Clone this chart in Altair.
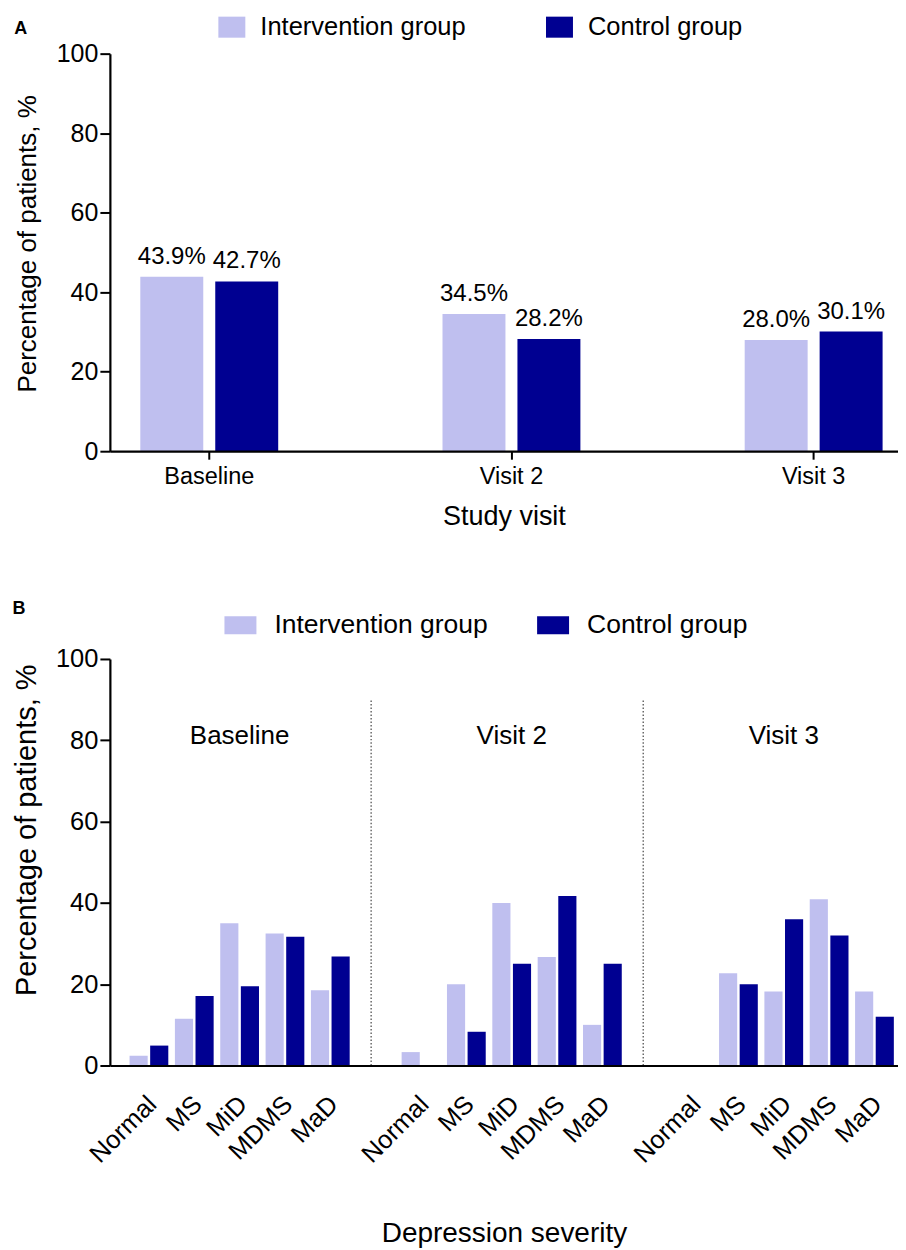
import altair as alt
import pandas as pd

# ---------------- data ----------------
visits = ["Baseline", "Visit 2", "Visit 3"]
groups = ["Intervention group", "Control group"]
colors = ["#BFBFEF", "#000091"]

a_intervention = [43.9, 34.5, 28.0]
a_control = [42.7, 28.2, 30.1]

severities = ["Normal", "MS", "MiD", "MDMS", "MaD"]
b_intervention_baseline = [2.4, 11.5, 35.0, 32.5, 18.5]
b_control_baseline = [4.9, 17.1, 19.5, 31.7, 26.8]
b_intervention_visit2 = [3.3, 20.0, 40.0, 26.7, 10.0]
b_control_visit2 = [0.0, 8.3, 25.0, 41.7, 25.0]
b_intervention_visit3 = [0.0, 22.7, 18.2, 40.9, 18.2]
b_control_visit3 = [0.0, 20.0, 36.0, 32.0, 12.0]

y_ticks = [0, 20, 40, 60, 80, 100]
separator_top = 90
section_label_y = 81

FONT = "Liberation Sans"

# ---------------- tables ----------------
a_rows = []
for v, vi, vc in zip(visits, a_intervention, a_control):
    a_rows.append({"visit": v, "group": groups[0], "value": vi, "label": f"{vi:.1f}%"})
    a_rows.append({"visit": v, "group": groups[1], "value": vc, "label": f"{vc:.1f}%"})
df_a = pd.DataFrame(a_rows)

b_int = [b_intervention_baseline, b_intervention_visit2, b_intervention_visit3]
b_ctl = [b_control_baseline, b_control_visit2, b_control_visit3]
cats = []
b_rows = []
for i, v in enumerate(visits):
    for j, s in enumerate(severities):
        key = f"{v}|{s}"
        cats.append(key)
        b_rows.append({"cat": key, "group": groups[0], "value": b_int[i][j]})
        b_rows.append({"cat": key, "group": groups[1], "value": b_ctl[i][j]})
    if i < len(visits) - 1:
        cats.append(f"gap{i + 1}")
df_b = pd.DataFrame(b_rows)
df_sep = pd.DataFrame({"cat": ["gap1", "gap2"], "y0": [0, 0], "y1": [separator_top] * 2})
df_sec = pd.DataFrame({"cat": [f"{v}|{severities[2]}" for v in visits],
                       "yv": [section_label_y] * 3, "label": visits})

axis_common = dict(domainColor="black", tickColor="black", labelColor="black",
                   titleColor="black", grid=False, labelFont=FONT, titleFont=FONT,
                   titleFontWeight="normal", domainWidth=2.2, tickWidth=2, zindex=1)

def y_axis(title_size, label_size, title_pad, title_y):
    return alt.Axis(values=y_ticks, title="Percentage of patients, %",
                    titleFontSize=title_size, labelFontSize=label_size,
                    tickSize=10, labelPadding=2, titlePadding=title_pad,
                    titleY=title_y, **axis_common)

def color_enc(lx, ly, sym_path, sym_size, lab_size, lab_off, col_pad):
    return alt.Color("group:N", sort=groups,
                     scale=alt.Scale(domain=groups, range=colors),
                     legend=alt.Legend(orient="none", legendX=lx, legendY=ly,
                                       direction="horizontal", title=None,
                                       symbolType=sym_path, symbolSize=sym_size,
                                       symbolStrokeWidth=0, symbolOpacity=1,
                                       labelFontSize=lab_size, labelFont=FONT,
                                       labelColor="black", labelOffset=lab_off,
                                       labelLimit=400,
                                       columnPadding=col_pad, padding=0))

# ---------------- panel A ----------------
xa = alt.X("visit:N", sort=visits,
           scale=alt.Scale(paddingInner=0.5, paddingOuter=0.054, align=0.73),
           axis=alt.Axis(title="Study visit", titleFontSize=27, labelFontSize=23.5,
                         labelAngle=0, tickSize=8, labelPadding=5, titlePadding=16,
                         **axis_common))
xoa = alt.XOffset("group:N", sort=groups,
                  scale=alt.Scale(paddingInner=0.16, paddingOuter=0.088))
ya = alt.Y("value:Q", scale=alt.Scale(domain=[0, 100], nice=False),
           axis=y_axis(26, 25, 16, 190))

bars_a = alt.Chart(df_a).mark_bar().encode(
    x=xa, xOffset=xoa, y=ya,
    color=color_enc(108.6, -40, "M-1,-0.78L1,-0.78L1,0.78L-1,0.78Z", 729, 25.5, 15, 80))
text_a = alt.Chart(df_a).mark_text(fontSize=24, font=FONT, color="black",
                                   baseline="alphabetic", dy=-13).encode(
    x=xa, xOffset=xoa, y=ya, text="label:N")

panel_a = alt.layer(bars_a, text_a).properties(
    width=789, height=398,
    title=alt.TitleParams("A", anchor="start", frame="bounds", fontSize=18,
                          fontWeight="bold", color="black", font=FONT, dy=28))

# ---------------- panel B ----------------
label_expr = "indexof(datum.label, '|') >= 0 ? split(datum.label, '|')[1] : ''"
xb = alt.X("cat:N", sort=cats,
           scale=alt.Scale(domain=cats, paddingInner=0, paddingOuter=0.19, align=0.95),
           axis=alt.Axis(title="Depression severity", titleFontSize=28, labelFontSize=25.5,
                         labelAngle=315, ticks=False, labelPadding=26, labelOffset=-5,
                         titlePadding=52, labelExpr=label_expr, **axis_common))
xob = alt.XOffset("group:N", sort=groups,
                  scale=alt.Scale(paddingInner=0.12, paddingOuter=0.16))
yb = alt.Y("value:Q", scale=alt.Scale(domain=[0, 100], nice=False),
           axis=y_axis(29, 25.5, 14, 171))

bars_b = alt.Chart(df_b).mark_bar().encode(
    x=xb, xOffset=xob, y=yb,
    color=color_enc(114.7, -50, "M-1,-0.56L1,-0.56L1,0.56L-1,0.56Z", 1024, 26.5, 18, 49))
sep_b = alt.Chart(df_sep).mark_rule(color="#444444", strokeDash=[1.5, 2],
                                    strokeWidth=1.2).encode(
    x=alt.X("cat:N", sort=cats, bandPosition=0.4),
    y=alt.Y("y0:Q"), y2="y1:Q")
sec_b = alt.Chart(df_sec).mark_text(fontSize=26, font=FONT, color="black",
                                    baseline="middle").encode(
    x=alt.X("cat:N", sort=cats), y=alt.Y("yv:Q"), text="label:N")

panel_b = alt.layer(bars_b, sep_b, sec_b).properties(
    width=789, height=407,
    title=alt.TitleParams("B", anchor="start", frame="bounds", fontSize=18,
                          fontWeight="bold", color="black", font=FONT, dy=13))

chart = alt.vconcat(panel_a, panel_b, spacing=70).resolve_scale(
    color="independent", xOffset="independent").resolve_legend(
    color="independent").properties(
    padding={"left": 4, "top": 5, "right": 0, "bottom": 0}
).configure(font=FONT).configure_view(stroke=None)

chart.save("out.html", embed_options={"renderer": "svg", "actions": False})
